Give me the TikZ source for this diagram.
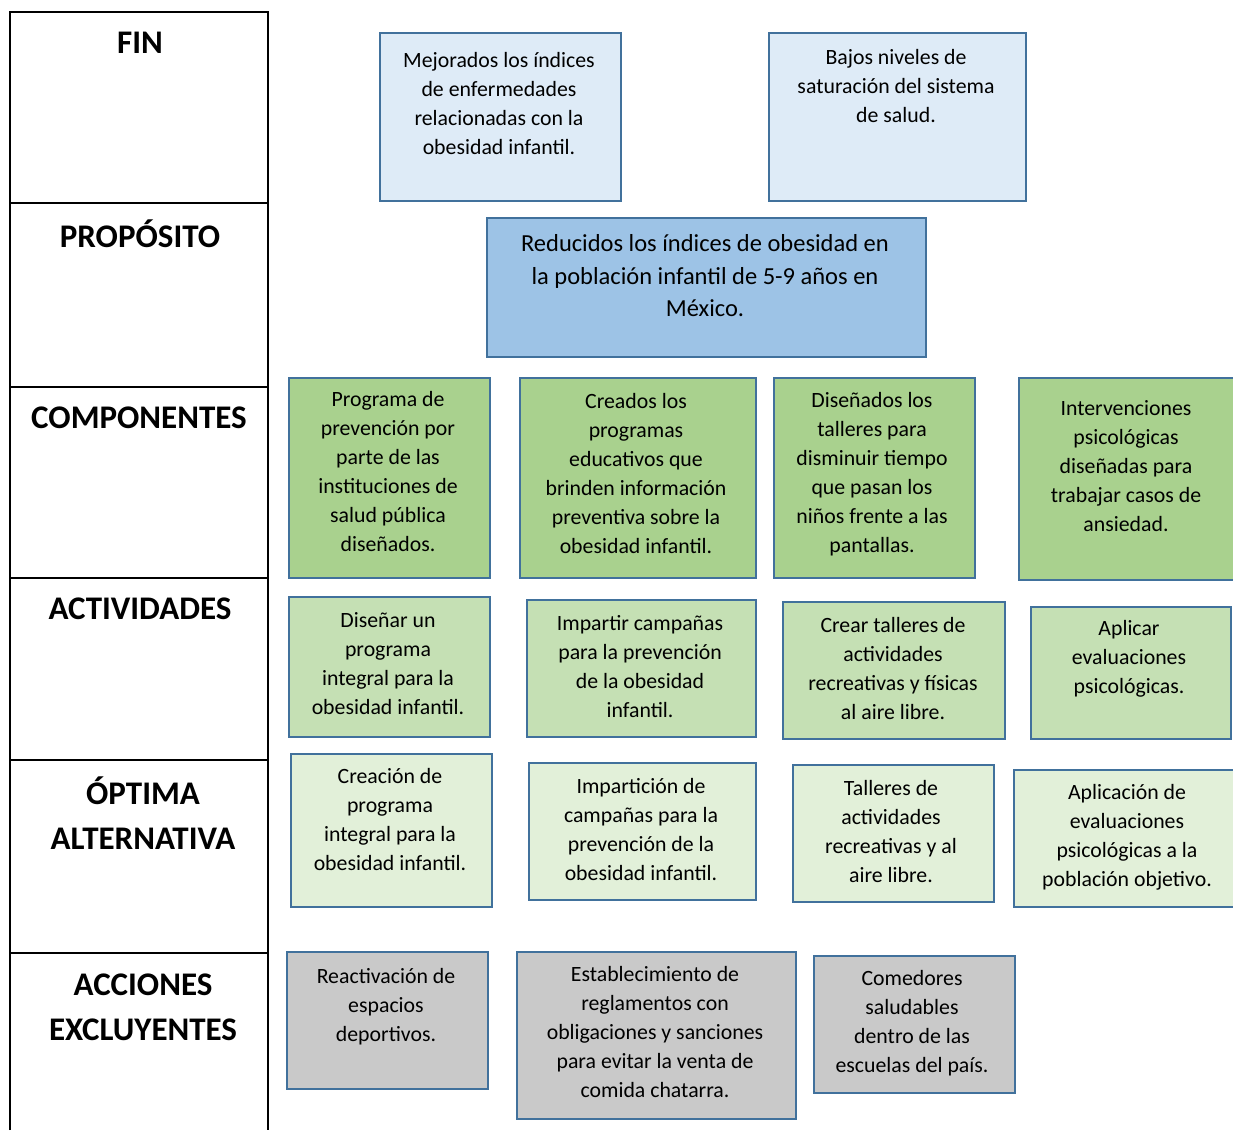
\documentclass[tikz,border=0pt]{standalone}
\usepackage{fontspec}
\setmainfont{Carlito}
\definecolor{bordeazul}{HTML}{41719C}
\definecolor{finfill}{HTML}{DEEBF7}
\definecolor{propfill}{HTML}{9DC3E6}
\definecolor{compfill}{HTML}{A9D18E}
\definecolor{actfill}{HTML}{C5E0B4}
\definecolor{optfill}{HTML}{E2F0D9}
\definecolor{excfill}{HTML}{C9C9C9}
\tikzset{
  caja/.style={line width=1.6pt, draw=bordeazul},
  rotulo/.style={font=\fontsize{33}{45}\selectfont\bfseries, align=center, inner sep=0pt},
  texto/.style={font=\fontsize{21.8}{29}\selectfont, align=center, inner sep=0pt},
  textogrande/.style={font=\fontsize{24.5}{32.5}\selectfont, align=center, inner sep=0pt}
}

\begin{document}
\begin{tikzpicture}[x=1pt, y=-1pt]
    \useasboundingbox (0,0) rectangle (1233,1130);
    % columna de niveles
    \draw [line width=1.6pt] (10,1130) -- (10,12) -- (268,12) -- (268,1130);
    \draw [line width=1.6pt] (10,203) -- (268,203);
    \draw [line width=1.6pt] (10,387) -- (268,387);
    \draw [line width=1.6pt] (10,578) -- (268,578);
    \draw [line width=1.6pt] (10,760) -- (268,760);
    \draw [line width=1.6pt] (10,953) -- (268,953);
    \node[rotulo] (fin) at (140,43) {FIN};
    \node[rotulo] (proposito) at (140,234) {PROPÓSITO};
    \node[rotulo] (componentes) at (139,418) {COMPONENTES};
    \node[rotulo] (actividades) at (140,609) {ACTIVIDADES};
    \node[rotulo] (optima) at (143,813) {ÓPTIMA\\ALTERNATIVA};
    \node[rotulo] (acciones) at (143,1007) {ACCIONES\\EXCLUYENTES};
    % fin
    \filldraw [caja, fill=finfill] (380,33) rectangle (621,201);
    \filldraw [caja, fill=finfill] (769,33) rectangle (1026,201);
    \node[texto] (fin1) at (499,104) {Mejorados los índices\\de enfermedades\\relacionadas con la\\obesidad infantil.};
    \node[texto] (fin2) at (896,86) {Bajos niveles de\\saturación del sistema\\de salud.};
    % proposito
    \filldraw [caja, fill=propfill] (487,218) rectangle (926,357);
    \node[textogrande] (prop1) at (705,276) {Reducidos los índices de obesidad en\\la población infantil de 5-9 años en\\México.};
    % componentes
    \filldraw [caja, fill=compfill] (289,378) rectangle (490,578);
    \filldraw [caja, fill=compfill] (520,378) rectangle (756,578);
    \filldraw [caja, fill=compfill] (774,378) rectangle (975,578);
    \filldraw [caja, fill=compfill] (1019,378) rectangle (1236,580);
    \node[texto] (comp1) at (388,472) {Programa de\\prevención por\\parte de las\\instituciones de\\salud pública\\diseñados.};
    \node[texto] (comp2) at (636,474) {Creados los\\programas\\educativos que\\brinden información\\preventiva sobre la\\obesidad infantil.};
    \node[texto] (comp3) at (872,474) {Diseñados los\\talleres para\\disminuir tiempo\\que pasan los\\niños frente a las\\pantallas.};
    \node[texto] (comp4) at (1126,466) {Intervenciones\\psicológicas\\diseñadas para\\trabajar casos de\\ansiedad.};
    % actividades
    \filldraw [caja, fill=actfill] (289,597) rectangle (490,737);
    \filldraw [caja, fill=actfill] (527,600) rectangle (756,737);
    \filldraw [caja, fill=actfill] (783,602) rectangle (1005,739);
    \filldraw [caja, fill=actfill] (1031,607) rectangle (1231,739);
    \node[texto] (act1) at (388,664) {Diseñar un\\programa\\integral para la\\obesidad infantil.};
    \node[texto] (act2) at (640,667) {Impartir campañas\\para la prevención\\de la obesidad\\infantil.};
    \node[texto] (act3) at (893,669) {Crear talleres de\\actividades\\recreativas y físicas\\al aire libre.};
    \node[texto] (act4) at (1129,659) {Aplicar\\evaluaciones\\psicológicas.};
    % optima alternativa
    \filldraw [caja, fill=optfill] (291,754) rectangle (492,907);
    \filldraw [caja, fill=optfill] (529,763) rectangle (756,900);
    \filldraw [caja, fill=optfill] (793,765) rectangle (994,902);
    \filldraw [caja, fill=optfill] (1014,770) rectangle (1236,907);
    \node[texto] (opt1) at (390,820) {Creación de\\programa\\integral para la\\obesidad infantil.};
    \node[texto] (opt2) at (641,830) {Impartición de\\campañas para la\\prevención de la\\obesidad infantil.};
    \node[texto] (opt3) at (891,832) {Talleres de\\actividades\\recreativas y al\\aire libre.};
    \node[texto] (opt4) at (1127,837) {Aplicación de\\evaluaciones\\psicológicas a la\\población objetivo.};
    % acciones excluyentes
    \filldraw [caja, fill=excfill] (287,952) rectangle (488,1089);
    \filldraw [caja, fill=excfill] (517,952) rectangle (796,1119);
    \filldraw [caja, fill=excfill] (814,956) rectangle (1015,1093);
    \node[texto] (exc1) at (386,1007) {Reactivación de\\espacios\\deportivos.};
    \node[texto] (exc2) at (655,1032) {Establecimiento de\\reglamentos con\\obligaciones y sanciones\\para evitar la venta de\\comida chatarra.};
    \node[texto] (exc3) at (912,1023) {Comedores\\saludables\\dentro de las\\escuelas del país.};
\end{tikzpicture}
\end{document}
